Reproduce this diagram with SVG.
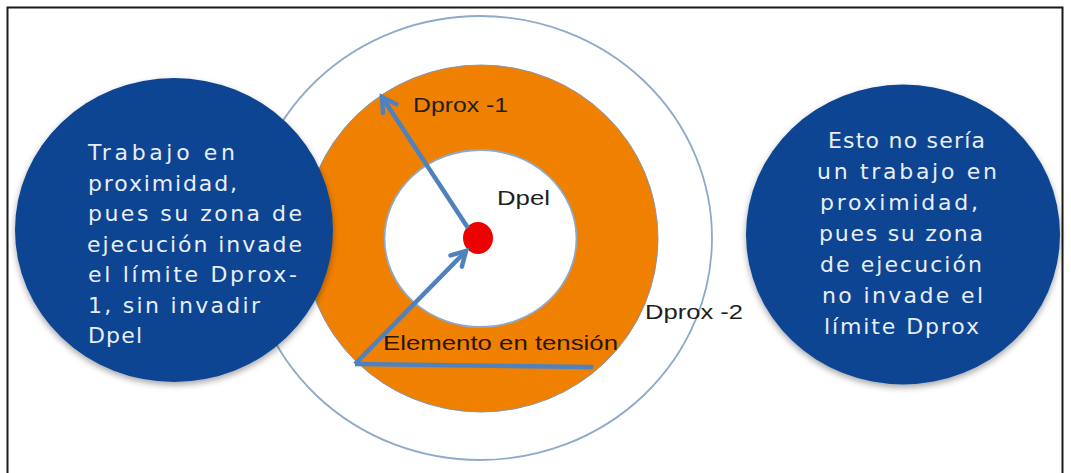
<svg xmlns="http://www.w3.org/2000/svg" width="1071" height="473" viewBox="0 0 1071 473">
<style>
.ctext{font-family:"DejaVu Sans","Liberation Sans",sans-serif;font-size:22px;fill:#e9eef6}
.lbl{font-family:"Liberation Sans","DejaVu Sans",sans-serif;font-size:21px;fill:#1e1e1e}
.conn{fill:none;stroke:#4f81bd;stroke-width:4.5;stroke-linecap:butt}
</style>
<defs>
<filter id="sh" x="-10%" y="-10%" width="125%" height="130%">
<feDropShadow dx="0" dy="3" stdDeviation="3" flood-color="#000" flood-opacity="0.35"/>
</filter>
<marker id="arr" markerUnits="userSpaceOnUse" markerWidth="40" markerHeight="40" viewBox="-20 -20 40 40" refX="0" refY="0" orient="auto" overflow="visible">
<path d="M-14,-8 L0,0 L-14,8" fill="none" stroke="#4f81bd" stroke-width="4.5" stroke-linejoin="miter" stroke-linecap="round"/>
</marker>
</defs>
<rect x="0" y="0" width="1071" height="473" fill="#fff"/>
<rect x="7.5" y="7.5" width="1055" height="480" fill="none" stroke="#1a1a1a" stroke-width="2"/>
<g id="zona-dprox2">
<ellipse cx="480" cy="238" rx="232" ry="222" fill="#fff" stroke="#8eaacb" stroke-width="1.8"/>
<text class="lbl" x="645" y="319" textLength="98" lengthAdjust="spacingAndGlyphs">Dprox -2</text>
</g>
<g id="zona-dprox1">
<ellipse cx="481" cy="238.5" rx="177" ry="173.5" fill="#f08000" stroke="#8296b3" stroke-width="1"/>
<text class="lbl" x="413" y="112" textLength="95" lengthAdjust="spacingAndGlyphs">Dprox -1</text>
</g>
<g id="zona-dpel">
<ellipse cx="480.5" cy="238.5" rx="96" ry="88.5" fill="#fff" stroke="#8ea8c8" stroke-width="1.8"/>
<text class="lbl" x="497" y="205" textLength="53" lengthAdjust="spacingAndGlyphs">Dpel</text>
</g>
<g id="elemento">
<ellipse cx="478" cy="238" rx="15" ry="16" fill="#ee0000"/>
<text class="lbl" x="383" y="350" textLength="235" lengthAdjust="spacingAndGlyphs" style="fill:#2a1500">Elemento en tensión</text>
</g>
<g id="connectors">
<line class="conn" x1="468" y1="228" x2="382" y2="97" marker-end="url(#arr)"/>
<line class="conn" x1="355" y1="364" x2="466" y2="251" marker-end="url(#arr)"/>
<line class="conn" x1="355" y1="364" x2="593" y2="367"/>
</g>
<g id="nota-izquierda">
<ellipse cx="174" cy="230" rx="159" ry="152" fill="#0b4493" filter="url(#sh)"/>
<text class="ctext">
<tspan x="88" y="160" textLength="147" lengthAdjust="spacing">Trabajo  en</tspan>
<tspan x="88" y="190.5" textLength="149" lengthAdjust="spacing">proximidad,</tspan>
<tspan x="88" y="221" textLength="214" lengthAdjust="spacing">pues su zona de</tspan>
<tspan x="87" y="251.5" textLength="215" lengthAdjust="spacing">ejecución invade</tspan>
<tspan x="88" y="282" textLength="209" lengthAdjust="spacing">el límite Dprox-</tspan>
<tspan x="88" y="312.5" textLength="172" lengthAdjust="spacing">1,  sin invadir</tspan>
<tspan x="88" y="343" textLength="54" lengthAdjust="spacing">Dpel</tspan>
</text>
</g>
<g id="nota-derecha">
<ellipse cx="903" cy="234.5" rx="157" ry="150" fill="#0b4493" filter="url(#sh)"/>
<text class="ctext">
<tspan x="828" y="148" textLength="157" lengthAdjust="spacing">Esto no sería</tspan>
<tspan x="817" y="179" textLength="180" lengthAdjust="spacing">un trabajo en</tspan>
<tspan x="820" y="210" textLength="158" lengthAdjust="spacing">proximidad,</tspan>
<tspan x="819" y="241" textLength="164" lengthAdjust="spacing">pues su zona</tspan>
<tspan x="820" y="272" textLength="162" lengthAdjust="spacing">de ejecución</tspan>
<tspan x="822" y="303" textLength="161" lengthAdjust="spacing">no invade el</tspan>
<tspan x="824" y="334" textLength="155" lengthAdjust="spacing">límite Dprox</tspan>
</text>
</g>
</svg>
